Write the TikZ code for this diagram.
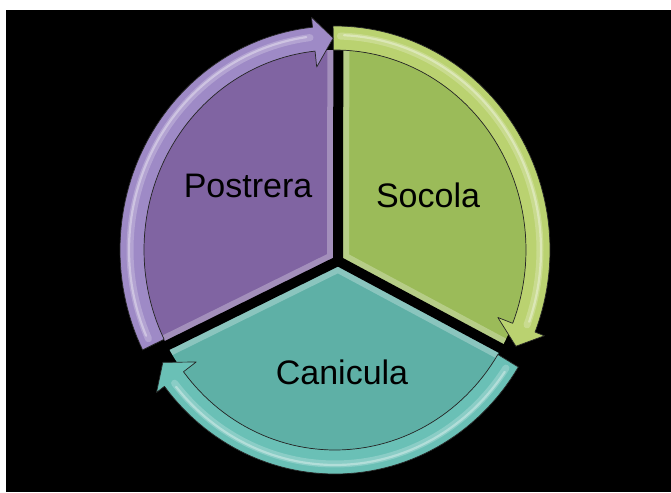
\documentclass[tikz,border=0pt]{standalone}
\usepackage{fontspec}
\setmainfont{Liberation Sans}
\usetikzlibrary{calc}
\definecolor{pw}{RGB}{128,100,162}
\definecolor{pr}{RGB}{158,138,198}
\definecolor{gw}{RGB}{155,187,89}
\definecolor{gr}{RGB}{186,210,112}
\definecolor{tw}{RGB}{94,176,166}
\definecolor{tr}{RGB}{106,192,182}
\newcommand\ringarrow[4]{%
  \filldraw[fill=#1, draw=black!85, line width=0.7pt, line join=round]
    plot[domain=#2:#3, samples=60, variable=\t] ({\ecx+\rxo*cos(\t)},{\ecy+\ryo*sin(\t)})
    -- ({\ecx+(\rxo+10)*cos(#3)},{\ecy+(\ryo+10)*sin(#3)})
    -- ({\ecx+(\rxi+12)*cos(#4)},{\ecy+(\ryi+12)*sin(#4)})
    -- ({\ecx+(\rxi-16)*cos(#3)},{\ecy+(\ryi-16)*sin(#3)})
    -- plot[domain=#3:#2, samples=60, variable=\t] ({\ecx+\rxi*cos(\t)},{\ecy+\ryi*sin(\t)})
    -- cycle;
  \draw[white, opacity=0.22, line width=7pt, line cap=round]
    plot[domain=#2+2:#3-1, samples=60, variable=\t] ({\ecx+(\rxi+14)*cos(\t)},{\ecy+(\ryi+14)*sin(\t)});
  \draw[white, opacity=0.35, line width=2.2pt, line cap=round]
    plot[domain=#2+3:#3-2, samples=60, variable=\t] ({\ecx+(\rxi+15)*cos(\t)},{\ecy+(\ryi+15)*sin(\t)});
}
\newcommand\wedgefill[5]{%
  \fill[#1] (J) -- plot[domain=#2:#3, samples=60, variable=\t] ({\ecx+\rxi*cos(\t)},{\ecy+\ryi*sin(\t)}) -- cycle;
  \begin{scope}
    \clip (J) -- plot[domain=#2:#3, samples=60, variable=\t] ({\ecx+\rxi*cos(\t)},{\ecy+\ryi*sin(\t)}) -- cycle;
    \draw[white, opacity=0.28, line width=22pt] (#4) -- (J) -- (#5);
  \end{scope}
}
\begin{document}
\begin{tikzpicture}[x=1pt,y=-1pt,
  gapline/.style={black, line width=10pt},
  label/.style={font=\fontsize{34}{40}\selectfont, text=black, anchor=base, inner sep=0pt}]
\def\ecx{335}\def\ecy{250}
\def\rxi{191}\def\ryi{200}\def\rxo{215}\def\ryo{224}
\useasboundingbox (0,0) rectangle (671,492);
\fill[white] (0,0) rectangle (671,492);
\fill[black] (6,10) rectangle (671,492);
% junction and gap points
\coordinate (J) at (338,261);
\coordinate (gT) at ({335+191*cos(271)},{250+200*sin(271)});
\coordinate (gL) at ({335+191*cos(151.5)},{250+200*sin(151.5)});
\coordinate (gR) at ({335+191*cos(29.5)},{250+200*sin(29.5)});
\coordinate (gTx) at ($(J)!1.12!(gT)$);
\coordinate (gLx) at ($(J)!1.12!(gL)$);
\coordinate (gRx) at ($(J)!1.12!(gR)$);
% wedges
\wedgefill{pw}{151.5}{271}{gL}{gT}
\wedgefill{gw}{271}{389.5}{gT}{gR}
\wedgefill{tw}{29.5}{151.5}{gR}{gL}
% gaps
\draw[gapline] (J) -- (gTx);
\draw[gapline] (J) -- (gLx);
\draw[gapline] (J) -- (gRx);
% ring arrows
\ringarrow{tr}{31.5}{142.5}{148}
\ringarrow{gr}{269.5}{381.5}{387}
\ringarrow{pr}{153.5}{264}{269.5}
% labels
\node[label] (post) at (248,197) {Postrera};
\node[label] (soc) at (428,207) {Socola};
\node[label] (can) at (342,384) {Canicula};
\end{tikzpicture}
\end{document}
